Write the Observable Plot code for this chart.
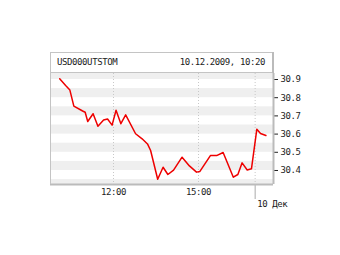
<!DOCTYPE html>
<html>
<head>
<meta charset="utf-8">
<script src="https://cdn.jsdelivr.net/npm/d3@7"></script>
<script src="https://cdn.jsdelivr.net/npm/@observablehq/plot@0.6"></script>
<style>
  html, body { margin: 0; padding: 0; background: #fff; }
  #chart { position: relative; width: 340px; height: 255px; }
  #chart svg text { letter-spacing: -0.4px; }
</style>
</head>
<body>
<div id="chart"></div>
<script>
// Title texts
const ticker = "USD000UTSTOM";
const stamp = "10.12.2009, 10:20";

// Time on a compressed trading-hours axis (hours; 17 = start of 10 Dec session)
const times = [10.10, 10.31, 10.46, 10.60, 10.91, 11.00, 11.09, 11.28, 11.45, 11.65,
  11.79, 11.95, 12.09, 12.26, 12.43, 12.78, 13.01, 13.20, 13.31, 13.56,
  13.75, 13.92, 14.12, 14.42, 14.68, 14.93, 15.05, 15.42, 15.64, 15.87,
  16.23, 16.39, 16.54, 16.72, 16.87, 17.06, 17.19, 17.38];
const prices = [30.904, 30.867, 30.842, 30.754, 30.727, 30.720, 30.669, 30.712, 30.643, 30.677,
  30.683, 30.649, 30.731, 30.657, 30.706, 30.602, 30.574, 30.546, 30.510, 30.352,
  30.418, 30.378, 30.402, 30.473, 30.425, 30.391, 30.395, 30.482, 30.482, 30.499,
  30.363, 30.378, 30.442, 30.403, 30.409, 30.627, 30.603, 30.592];

const xDomain = [9.776, 17.648];
const yDomain = [30.323, 30.933];
const yTicks = [30.4, 30.5, 30.6, 30.7, 30.8, 30.9];
const bandStarts = [30.3, 30.4, 30.5, 30.6, 30.7, 30.8, 30.9];
const timeTicks = [12, 15];
const timeLabels = ["12:00", "15:00"];
const dayTicks = [17];
const dayLabels = ["10 Дек"];

const data = times.map((t, i) => ({t, p: prices[i]}));
const bands = bandStarts.map(v => ({y1: Math.max(v, yDomain[0]), y2: Math.min(v + 0.05, yDomain[1])}))
  .filter(b => b.y2 > b.y1);

const plot = Plot.plot({
  width: 340,
  height: 255,
  marginLeft: 50,
  marginRight: 67,
  marginTop: 73,
  marginBottom: 71,
  style: {fontFamily: "'DejaVu Sans Mono', monospace", fontSize: "9px", color: "#222", background: "#fff"},
  x: {domain: xDomain, axis: null},
  y: {domain: yDomain, axis: "right", ticks: yTicks, tickSize: 4, tickPadding: 3,
      tickFormat: d => d.toFixed(1), label: null},
  marks: [
    Plot.rect(bands, {y1: "y1", y2: "y2", fill: "#efefef"}),
    Plot.ruleX(timeTicks.concat(dayTicks), {stroke: "#c8c8c8", strokeDasharray: "1,2"}),
    Plot.ruleX(dayTicks, {stroke: "#aaa", y1: yDomain[0], y2: yDomain[0], insetBottom: -15}),
    Plot.line(data, {x: "t", y: "p", stroke: "#ee0000", strokeWidth: 1.5, strokeLinejoin: "round"}),
    Plot.text(timeTicks.map((t, i) => ({t, label: timeLabels[i]})),
      {x: "t", text: "label", frameAnchor: "bottom", dy: 10, fill: "#222"}),
    Plot.text(dayTicks.map((t, i) => ({t, label: dayLabels[i]})),
      {x: "t", text: "label", frameAnchor: "bottom", dy: 22, dx: 2, textAnchor: "start", fill: "#222"}),
    Plot.ruleY([yDomain[0]], {stroke: "#bbb", strokeWidth: 2}),
    Plot.ruleX([xDomain[1]], {stroke: "#bbb", strokeWidth: 2})
  ]
});

document.getElementById("chart").appendChild(plot);

// header box above the plot frame
const svg = d3.select(plot);
const g = svg.append("g");
g.append("line").attr("x1", 50.5).attr("x2", 50.5).attr("y1", 52).attr("y2", 184).attr("stroke", "#c4c4c4");
g.append("rect").attr("x", 50.5).attr("y", 52.5).attr("width", 222.5).attr("height", 20)
  .attr("fill", "#fff").attr("stroke", "#c4c4c4");
g.append("line").attr("x1", 273).attr("x2", 273).attr("y1", 52).attr("y2", 73).attr("stroke", "#bbb").attr("stroke-width", 2);
g.append("text").attr("x", 57).attr("y", 62.5).attr("dy", "0.32em").attr("text-anchor", "start").attr("fill", "#222").text(ticker);
g.append("text").attr("x", 265).attr("y", 62.5).attr("dy", "0.32em").attr("text-anchor", "end").attr("fill", "#222").text(stamp);
</script>
</body>
</html>
